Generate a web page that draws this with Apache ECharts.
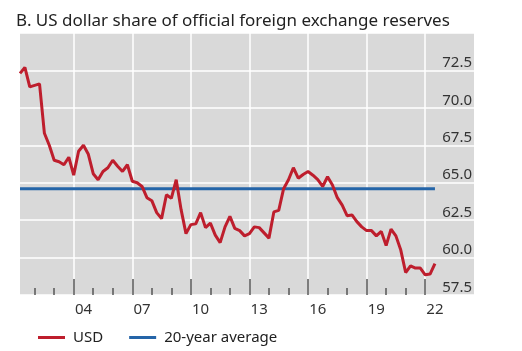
<!DOCTYPE html>
<html>
<head>
<meta charset="utf-8">
<script src="https://cdn.jsdelivr.net/npm/echarts@6/dist/echarts.min.js"></script>
<style>html,body{margin:0;padding:0;background:#fff;}#chart{width:522px;height:351px;}</style>
</head>
<body>
<div id="chart"></div>
<script>
// Quarterly categories 2001Q1 .. 2024Q2 (axis extends past the data, as in the original)
const firstYear = 2001, lastYear = 2024, lastQuarterOfLastYear = 2;
const quarters = [];
for (let y = firstYear; y <= lastYear; y++) {
  for (let q = 1; q <= 4; q++) {
    if (y === lastYear && q > lastQuarterOfLastYear) break;
    quarters.push(y + 'Q' + q);
  }
}

// USD share of official FX reserves, %, 2001Q1 .. 2022Q2
const usd = [
  72.3, 72.7, 71.4, 71.5, 71.6, 68.3, 67.5, 66.5, 66.4, 66.2,
  66.7, 65.5, 67.1, 67.5, 66.9, 65.6, 65.2, 65.75, 66.0, 66.5,
  66.1, 65.75, 66.2, 65.1, 65.0, 64.75, 64.0, 63.8, 63.0, 62.6,
  64.2, 63.95, 65.2, 63.2, 61.6, 62.2, 62.25, 63.0, 62.0, 62.3,
  61.5, 61.0, 62.05, 62.75, 61.95, 61.8, 61.45, 61.6, 62.05, 62.0,
  61.65, 61.3, 63.05, 63.15, 64.6, 65.2, 66.0, 65.3, 65.55, 65.75,
  65.5, 65.2, 64.75, 65.4, 64.85, 64.0, 63.5, 62.8, 62.85, 62.4,
  62.05, 61.8, 61.8, 61.45, 61.75, 60.8, 61.9, 61.45, 60.5, 59.0,
  59.45, 59.3, 59.3, 58.85, 58.9, 59.6
];

// 20-year average and its span
const avgValue = 64.6;
const avgSpan = ['2001Q1', '2022Q2'];

// x tick labels (two-digit years), minor tick years, y axis
const tickLabels = ['04', '07', '10', '13', '16', '19', '22'];
const minorTickYears = [2002,2003,2004,2005,2006,2007,2008,2009,2010,2011,2012,2013,2014,2015,2016,2017,2018,2019,2020,2021,2022];
const yMin = 57.5, yMax = 75, yStep = 2.5;

// Year boundaries fall at the end of Q4 of the preceding year; labels sit mid-year (end of Q2)
const majorTickCats = new Set(tickLabels.map(l => (2000 + Number(l) - 1) + 'Q4'));
const minorTickCats = new Set(minorTickYears.map(y => (y - 1) + 'Q4'));
const labelCats = {};
tickLabels.forEach(l => { labelCats[(2000 + Number(l)) + 'Q2'] = l; });

const FONT = 'Noto Sans';
const chart = echarts.init(document.getElementById('chart'), null, {renderer: 'canvas'});
chart.setOption({
  animation: false,
  backgroundColor: '#ffffff',
  textStyle: {fontFamily: FONT},
  title: {
    text: 'B. US dollar share of official foreign exchange reserves',
    left: 11, top: 8,
    textStyle: {fontFamily: FONT, fontSize: 17, fontWeight: 'normal', color: '#222'}
  },
  grid: {
    left: 20, right: 48, top: 33, bottom: 56,
    show: true, backgroundColor: '#d9d9d9', borderWidth: 0
  },
  legend: {
    data: ['USD', '20-year average'],
    left: 38, top: 330, padding: 0,
    icon: 'rect', itemWidth: 27, itemHeight: 3, itemGap: 26,
    textStyle: {fontFamily: FONT, fontSize: 15, color: '#222', padding: [0, 0, 0, 3]}
  },
  xAxis: [
    {
      type: 'category', data: quarters, boundaryGap: false, position: 'bottom',
      axisLine: {show: false},
      axisTick: {show: true, inside: true, length: 16, interval: (i, v) => majorTickCats.has(v),
                 lineStyle: {color: '#555', width: 1.5}},
      axisLabel: {show: true, interval: (i, v) => v in labelCats, formatter: v => labelCats[v] || '',
                  fontFamily: FONT, fontSize: 15, color: '#333', margin: 7},
      splitLine: {show: true, interval: (i, v) => majorTickCats.has(v),
                  lineStyle: {color: '#ffffff', width: 1.5}}
    },
    {
      type: 'category', data: quarters, boundaryGap: false, position: 'bottom',
      axisLine: {show: false},
      axisTick: {show: true, inside: true, length: 7, interval: (i, v) => minorTickCats.has(v),
                 lineStyle: {color: '#555', width: 1.5}},
      axisLabel: {show: false},
      splitLine: {show: false}
    }
  ],
  yAxis: {
    type: 'value', position: 'right', min: yMin, max: yMax, interval: yStep,
    axisLine: {show: false}, axisTick: {show: false},
    axisLabel: {inside: true, margin: 2, fontFamily: FONT, fontSize: 15, color: '#333',
                verticalAlign: 'bottom',
                formatter: v => (v >= yMax ? '' : v.toFixed(1))},
    splitLine: {show: true, lineStyle: {color: '#ffffff', width: 1.5}}
  },
  series: [
    {
      name: '20-year average', type: 'line', xAxisIndex: 0,
      data: [[avgSpan[0], avgValue], [avgSpan[1], avgValue]],
      showSymbol: false, symbol: 'none',
      lineStyle: {color: '#2565a8', width: 3}, itemStyle: {color: '#2565a8'}, z: 2
    },
    {
      name: 'USD', type: 'line', xAxisIndex: 0, data: usd,
      showSymbol: false, symbol: 'none',
      lineStyle: {color: '#be1e2d', width: 3}, itemStyle: {color: '#be1e2d'}, z: 3
    }
  ]
});
</script>
</body>
</html>
